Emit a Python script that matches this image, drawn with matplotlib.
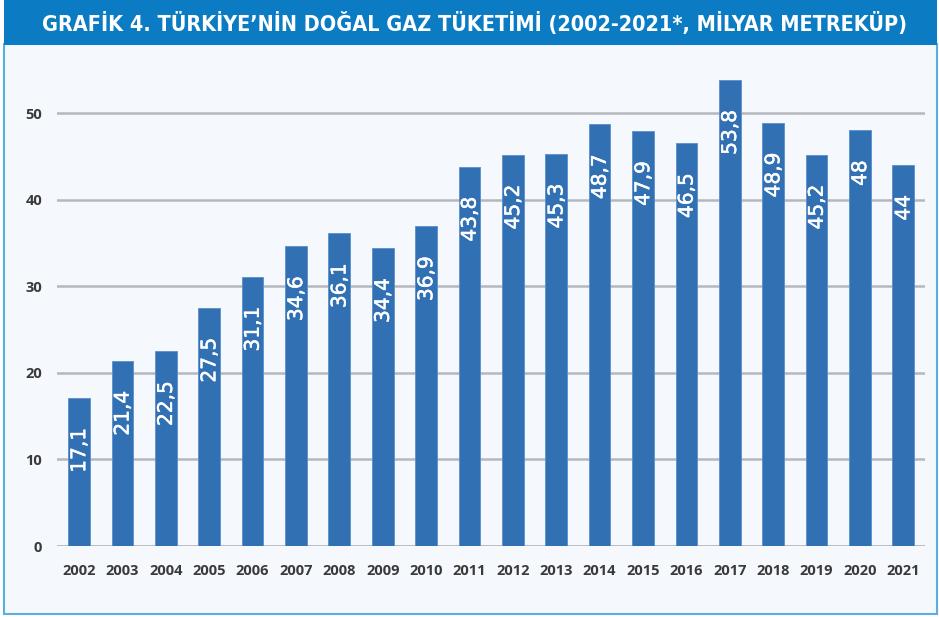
import matplotlib.pyplot as plt
import matplotlib.patheffects as pe
from matplotlib.patches import Rectangle

# ==========================================================
# DATA
# ==========================================================

years = [str(y) for y in range(2002, 2022)]
consumption = [17.1, 21.4, 22.5, 27.5, 31.1, 34.6, 36.1, 34.4, 36.9, 43.8,
               45.2, 45.3, 48.7, 47.9, 46.5, 53.8, 48.9, 45.2, 48, 44]
value_labels = ["17,1", "21,4", "22,5", "27,5", "31,1", "34,6", "36,1", "34,4",
                "36,9", "43,8", "45,2", "45,3", "48,7", "47,9", "46,5", "53,8",
                "48,9", "45,2", "48", "44"]
y_ticks = [0, 10, 20, 30, 40, 50]

title = "GRAFİK 4. TÜRKİYE’NİN DOĞAL GAZ TÜKETİMİ (2002-2021*, MİLYAR METREKÜP)"

bar_color = "#3270b4"
bg_color = "#f5f8fc"
header_color = "#0b7cc3"
grid_color = "#b5b8bc"
text_color = "#3a3a3a"

W, H = 939, 617

fig = plt.figure(figsize=(W / 100, H / 100), dpi=100)
fig.patch.set_facecolor("white")

# panel background and border
fig.patches.append(Rectangle((4 / W, 3 / H), 933 / W, (H - 47) / H,
                             transform=fig.transFigure, facecolor=bg_color,
                             edgecolor="#5aaee0", linewidth=1.5, zorder=-2))

# title bar
fig.patches.append(Rectangle((4 / W, (H - 45) / H), 933 / W, 45 / H,
                             transform=fig.transFigure, facecolor=header_color,
                             edgecolor="none", zorder=-1))
fig.text(474 / W, (H - 23) / H, title, color="white", fontsize=15.5,
         fontweight="bold", ha="center", va="center",
         family="DejaVu Sans", fontstretch="condensed")

# ==========================================================
# AXES
# ==========================================================

ax = fig.add_axes([57.3 / W, 71 / H, 867.7 / W, 476.3 / H], zorder=5)
ax.set_facecolor("none")

x = range(len(years))
ax.bar(x, consumption, width=0.5, color=bar_color,
       edgecolor="#5a8fcd", linewidth=0.6, zorder=3)

for xi, v, lab in zip(x, consumption, value_labels):
    ax.annotate(lab, (xi, v), xytext=(0.5, -21.5), textcoords="offset points",
                rotation=90, ha="center", va="top", color="white",
                fontsize=14.5, family="DejaVu Sans", zorder=4,
                path_effects=[pe.withStroke(linewidth=0.35, foreground="white")])

ax.set_xlim(-0.5, len(years) - 0.5)
ax.set_ylim(0, 55)

for tk in y_ticks[1:]:
    ax.axhline(tk, color=grid_color, linewidth=1.8, zorder=1)
ax.axhline(0, color=grid_color, linewidth=2, zorder=2)

ax.set_yticks(y_ticks)
ax.set_xticks(list(x))
ax.set_xticklabels(years)

for s in ax.spines.values():
    s.set_visible(False)

ax.tick_params(axis="both", length=0, colors=text_color, labelsize=10.5)
ax.tick_params(axis="y", pad=11)
ax.tick_params(axis="x", pad=13)
for lab in ax.get_xticklabels() + ax.get_yticklabels():
    lab.set_fontweight("bold")
    lab.set_family(["Open Sans", "DejaVu Sans"])

plt.savefig("out.png", dpi=100)
